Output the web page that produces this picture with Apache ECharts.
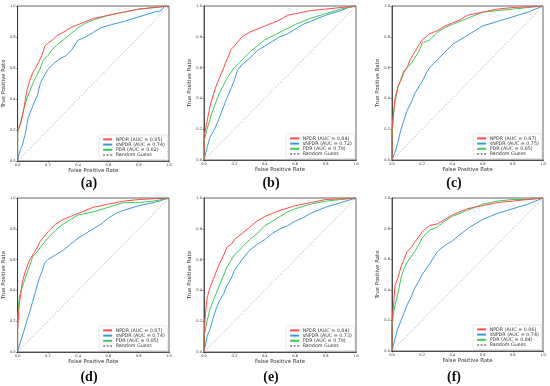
<!DOCTYPE html>
<html><head><meta charset="utf-8">
<script src="https://cdn.jsdelivr.net/npm/echarts@6/dist/echarts.min.js"></script>
<style>html,body{margin:0;padding:0;background:#fff}#c{width:550px;height:386px}</style>
</head><body><div id="c"></div>
<script>
// ---- Data (FPR, TPR) ----
const panelLabels = ['(a)','(b)','(c)','(d)','(e)','(f)'];
const methods = ['NPDR','sNPDR','PDR'];
const aucs = [
  [0.85,0.74,0.82],
  [0.84,0.72,0.79],
  [0.87,0.75,0.85],
  [0.87,0.74,0.85],
  [0.84,0.73,0.79],
  [0.86,0.74,0.84]
];
const ticks = [0,0.2,0.4,0.6,0.8,1.0];

const a_NPDR = [[0,0],[0,0.2],[0.02,0.24],[0.04,0.33],[0.06,0.45],[0.08,0.52],[0.1,0.57],[0.12,0.6],[0.14,0.64],[0.16,0.68],[0.18,0.74],[0.2,0.76],[0.23,0.78],[0.26,0.81],[0.3,0.83],[0.35,0.86],[0.4,0.88],[0.45,0.9],[0.5,0.92],[0.6,0.94],[0.7,0.96],[0.8,0.98],[0.9,0.99],[1,1]];
const a_sNPDR = [[0,0],[0.01,0.05],[0.03,0.1],[0.05,0.17],[0.07,0.28],[0.09,0.33],[0.11,0.38],[0.13,0.42],[0.15,0.5],[0.17,0.54],[0.2,0.59],[0.24,0.63],[0.28,0.66],[0.32,0.68],[0.36,0.72],[0.4,0.78],[0.45,0.8],[0.5,0.83],[0.55,0.86],[0.62,0.88],[0.7,0.9],[0.8,0.93],[0.9,0.96],[0.95,0.97],[0.97,1],[1,1]];
const a_PDR = [[0,0],[0,0.18],[0.02,0.25],[0.04,0.33],[0.06,0.4],[0.08,0.45],[0.1,0.5],[0.12,0.54],[0.15,0.6],[0.17,0.65],[0.2,0.68],[0.23,0.72],[0.26,0.75],[0.3,0.78],[0.35,0.82],[0.4,0.86],[0.45,0.89],[0.5,0.91],[0.6,0.94],[0.7,0.96],[0.8,0.98],[0.9,0.99],[1,1]];

const b_NPDR = [[0,0],[0,0.15],[0.02,0.25],[0.04,0.35],[0.06,0.42],[0.08,0.48],[0.1,0.53],[0.13,0.6],[0.15,0.65],[0.18,0.72],[0.2,0.74],[0.25,0.8],[0.3,0.83],[0.35,0.85],[0.4,0.87],[0.45,0.89],[0.5,0.91],[0.55,0.94],[0.6,0.95],[0.7,0.97],[0.8,0.98],[0.9,0.99],[1,1]];
const b_sNPDR = [[0,0],[0.02,0.08],[0.04,0.15],[0.07,0.2],[0.1,0.27],[0.13,0.35],[0.15,0.4],[0.18,0.47],[0.2,0.52],[0.22,0.58],[0.25,0.62],[0.3,0.66],[0.35,0.71],[0.4,0.74],[0.45,0.77],[0.5,0.8],[0.55,0.82],[0.6,0.85],[0.65,0.88],[0.7,0.9],[0.8,0.94],[0.9,0.97],[0.95,0.99],[1,1]];
const b_PDR = [[0,0],[0,0.12],[0.02,0.2],[0.05,0.3],[0.08,0.38],[0.1,0.43],[0.15,0.53],[0.2,0.6],[0.25,0.65],[0.3,0.7],[0.35,0.74],[0.4,0.78],[0.5,0.83],[0.6,0.88],[0.7,0.92],[0.8,0.95],[0.9,0.98],[1,1]];

const c_NPDR = [[0,0],[0,0.2],[0.01,0.3],[0.02,0.4],[0.04,0.48],[0.06,0.52],[0.08,0.57],[0.1,0.6],[0.12,0.65],[0.15,0.7],[0.18,0.75],[0.2,0.78],[0.25,0.82],[0.3,0.84],[0.35,0.87],[0.4,0.89],[0.45,0.91],[0.5,0.94],[0.6,0.96],[0.7,0.98],[0.8,0.99],[0.9,0.995],[1,1]];
const c_sNPDR = [[0,0],[0.02,0.05],[0.04,0.12],[0.06,0.2],[0.08,0.26],[0.1,0.32],[0.13,0.38],[0.15,0.43],[0.18,0.48],[0.2,0.51],[0.23,0.57],[0.25,0.6],[0.3,0.65],[0.35,0.7],[0.4,0.75],[0.45,0.78],[0.5,0.81],[0.55,0.84],[0.6,0.87],[0.7,0.9],[0.8,0.93],[0.9,0.96],[1,1]];
const c_PDR = [[0,0],[0,0.15],[0.01,0.3],[0.02,0.38],[0.04,0.47],[0.06,0.53],[0.08,0.58],[0.1,0.6],[0.13,0.63],[0.15,0.66],[0.18,0.71],[0.2,0.76],[0.25,0.78],[0.3,0.83],[0.35,0.86],[0.4,0.88],[0.45,0.9],[0.5,0.92],[0.6,0.96],[0.7,0.97],[0.8,0.98],[0.9,0.99],[1,1]];

const d_NPDR = [[0,0],[0,0.15],[0.01,0.3],[0.03,0.45],[0.05,0.52],[0.08,0.6],[0.1,0.63],[0.13,0.68],[0.15,0.72],[0.2,0.78],[0.25,0.83],[0.3,0.86],[0.35,0.88],[0.4,0.9],[0.45,0.92],[0.5,0.94],[0.6,0.96],[0.7,0.98],[0.8,0.99],[0.9,0.995],[1,1]];
const d_sNPDR = [[0,0],[0.02,0.07],[0.04,0.13],[0.06,0.2],[0.08,0.26],[0.1,0.33],[0.12,0.4],[0.14,0.47],[0.16,0.52],[0.18,0.58],[0.2,0.6],[0.25,0.63],[0.3,0.66],[0.35,0.7],[0.4,0.74],[0.45,0.77],[0.5,0.8],[0.55,0.83],[0.6,0.87],[0.65,0.9],[0.7,0.92],[0.8,0.95],[0.9,0.97],[1,1]];
const d_PDR = [[0,0],[0,0.2],[0.01,0.35],[0.03,0.42],[0.05,0.48],[0.08,0.56],[0.1,0.62],[0.13,0.65],[0.15,0.68],[0.2,0.74],[0.25,0.79],[0.3,0.83],[0.35,0.86],[0.4,0.89],[0.5,0.91],[0.6,0.94],[0.7,0.97],[0.8,0.97],[0.9,0.98],[1,1]];

const e_NPDR = [[0,0],[0,0.12],[0.01,0.25],[0.02,0.35],[0.04,0.42],[0.06,0.47],[0.08,0.52],[0.1,0.57],[0.13,0.63],[0.15,0.68],[0.18,0.7],[0.2,0.73],[0.25,0.77],[0.3,0.81],[0.35,0.85],[0.4,0.88],[0.45,0.9],[0.5,0.92],[0.6,0.95],[0.7,0.97],[0.8,0.99],[0.9,0.995],[1,1]];
const e_sNPDR = [[0,0],[0.02,0.1],[0.04,0.15],[0.06,0.22],[0.08,0.28],[0.1,0.33],[0.13,0.38],[0.15,0.43],[0.18,0.48],[0.2,0.53],[0.25,0.6],[0.3,0.66],[0.35,0.7],[0.4,0.73],[0.45,0.77],[0.5,0.8],[0.55,0.82],[0.6,0.85],[0.65,0.87],[0.7,0.9],[0.8,0.94],[0.9,0.97],[1,1]];
const e_PDR = [[0,0],[0,0.1],[0.02,0.2],[0.04,0.28],[0.06,0.33],[0.08,0.38],[0.1,0.43],[0.13,0.5],[0.15,0.55],[0.2,0.63],[0.25,0.68],[0.3,0.73],[0.35,0.77],[0.4,0.82],[0.45,0.85],[0.5,0.88],[0.55,0.91],[0.6,0.93],[0.7,0.96],[0.8,0.98],[0.9,0.99],[1,1]];

const f_NPDR = [[0,0],[0,0.2],[0.01,0.3],[0.02,0.43],[0.04,0.48],[0.06,0.55],[0.08,0.6],[0.1,0.65],[0.13,0.68],[0.15,0.71],[0.18,0.75],[0.2,0.78],[0.25,0.82],[0.3,0.83],[0.35,0.86],[0.4,0.89],[0.45,0.91],[0.5,0.93],[0.6,0.95],[0.7,0.97],[0.8,0.98],[0.9,0.99],[1,1]];
const f_sNPDR = [[0,0],[0.02,0.08],[0.04,0.15],[0.06,0.2],[0.08,0.25],[0.1,0.3],[0.13,0.36],[0.15,0.41],[0.18,0.46],[0.2,0.5],[0.25,0.57],[0.3,0.65],[0.35,0.69],[0.4,0.72],[0.45,0.76],[0.5,0.8],[0.55,0.83],[0.6,0.86],[0.65,0.88],[0.7,0.9],[0.8,0.93],[0.9,0.96],[1,1]];
const f_PDR = [[0,0],[0,0.15],[0.01,0.25],[0.02,0.3],[0.04,0.38],[0.06,0.48],[0.08,0.54],[0.1,0.58],[0.13,0.62],[0.15,0.65],[0.18,0.7],[0.2,0.74],[0.25,0.79],[0.3,0.81],[0.35,0.85],[0.4,0.88],[0.45,0.9],[0.5,0.92],[0.6,0.96],[0.7,0.98],[0.8,0.99],[0.9,0.99],[1,1]];

const randomGuess = [[0,0],[1,1]];

const curves = [
  [a_NPDR,a_sNPDR,a_PDR],
  [b_NPDR,b_sNPDR,b_PDR],
  [c_NPDR,c_sNPDR,c_PDR],
  [d_NPDR,d_sNPDR,d_PDR],
  [e_NPDR,e_sNPDR,e_PDR],
  [f_NPDR,f_sNPDR,f_PDR]
];

// ---- Layout / style ----
const colors = ['#ff4a4a','#3a9ad9','#38cc55'];
const grids = [
  {left:16,top:6,width:153,height:155},
  {left:204,top:6,width:152,height:154},
  {left:392,top:6,width:151,height:154},
  {left:16,top:198,width:153,height:154},
  {left:204,top:198,width:152,height:154},
  {left:392,top:198,width:151,height:153}
];
const labelPos = [[89,183],[271,183],[454,183],[89,377],[271,377],[454,377]];

const option = {backgroundColor:'#fff', animation:false, grid:[], xAxis:[], yAxis:[], series:[], legend:[], graphic:[]};
const axisCommon = {
  type:'value', min:0, max:1, interval:0.2,
  axisLine:{show:true,lineStyle:{color:'#222',width:0.7}},
  axisTick:{show:true,length:1.5,lineStyle:{color:'#222',width:0.5}},
  splitLine:{show:false},
  axisLabel:{fontSize:3.6,color:'#333',margin:2,fontFamily:'DejaVu Sans',formatter:v=>v.toFixed(1)},
  nameLocation:'middle',
  nameTextStyle:{fontSize:5.4,color:'#333',fontFamily:'DejaVu Sans'}
};
grids.forEach((g,i)=>{
  option.grid.push(Object.assign({show:true,borderColor:'#222',borderWidth:0.7,backgroundColor:'#fff'},g));
  option.xAxis.push(Object.assign({},axisCommon,{gridIndex:i,name:'False Positive Rate',nameGap:7}));
  option.yAxis.push(Object.assign({},axisCommon,{gridIndex:i,name:'True Positive Rate',nameGap:10}));
  const names = [];
  curves[i].forEach((data,k)=>{
    const nm = methods[k]+' (AUC = '+aucs[i][k].toFixed(2)+')';
    names.push(nm);
    option.series.push({type:'line',name:nm,xAxisIndex:i,yAxisIndex:i,data:data,symbol:'none',
      lineStyle:{color:colors[k],width:1},itemStyle:{color:colors[k]},z:3+(k===0?2:(k===2?1:0))});
  });
  option.series.push({type:'line',name:'Random Guess',xAxisIndex:i,yAxisIndex:i,data:randomGuess,symbol:'none',
    lineStyle:{color:'#999',width:0.6,type:[2,1.5]},itemStyle:{color:'#999'},z:2});
  names.push('Random Guess');
  option.legend.push({
    orient:'vertical', data:names,
    right: 550-(g.left+g.width)+1.2, bottom: 386-(g.top+g.height)+1.5,
    itemWidth:9, itemHeight:5, itemGap:0.2, padding:[2,3,2,3],
    itemStyle:{opacity:0},
    lineStyle:{inactiveWidth:1},
    backgroundColor:'#fff', borderColor:'#ccc', borderWidth:0.5, borderRadius:1.5,
    textStyle:{fontSize:4.8,color:'#333',fontFamily:'DejaVu Sans',padding:[0,0,0,-1.5]},
    selectedMode:false
  });
  option.graphic.push({type:'text',x:labelPos[i][0],y:labelPos[i][1],
    style:{text:panelLabels[i],fill:'#111',fontFamily:'Liberation Serif',fontWeight:'bold',fontSize:14,align:'center',verticalAlign:'middle'}});
});
const chart = echarts.init(document.getElementById('c'),null,{renderer:'canvas'});
chart.setOption(option);
</script></body></html>
